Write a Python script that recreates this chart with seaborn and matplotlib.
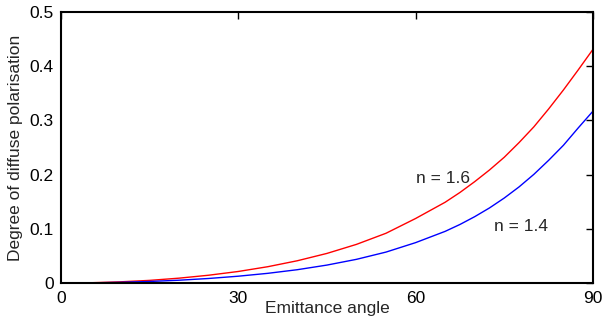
import pandas as pd
import matplotlib
matplotlib.use("Agg")
import matplotlib.pyplot as plt
import seaborn as sns

angles = [0, 5, 10, 15, 20, 25, 30, 35, 40, 45, 50, 55, 60, 65, 67.5, 70, 72.5,
          75, 77.5, 80, 82.5, 85, 87.5, 90]
rho_16 = [0.0, 0.0005, 0.0022, 0.0049, 0.0090, 0.0144, 0.0213, 0.0301, 0.0411, 0.0546,
          0.0713, 0.0918, 0.1190, 0.1490, 0.1670, 0.1870, 0.2085, 0.2320, 0.2590,
          0.2880, 0.3210, 0.3560, 0.3930, 0.4310]
rho_14 = [0.0, 0.0003, 0.0013, 0.0029, 0.0052, 0.0084, 0.0126, 0.0179, 0.0246, 0.0331,
          0.0437, 0.0571, 0.0745, 0.0953, 0.1080, 0.1224, 0.1385, 0.1568, 0.1773,
          0.2004, 0.2263, 0.2540, 0.2860, 0.3170]

df = pd.DataFrame({"angle": angles * 2,
                   "rho": rho_16 + rho_14,
                   "n": ["1.6"] * len(angles) + ["1.4"] * len(angles)})

sns.set_style("white")
plt.rcParams["font.family"] = ["Liberation Sans", "DejaVu Sans"]

fig = plt.figure(figsize=(6.02, 3.22), dpi=100)
ax = fig.add_axes([0.101, 0.121, 0.884, 0.842])

sns.lineplot(data=df, x="angle", y="rho", hue="n", palette={"1.6": "red", "1.4": "blue"},
             linewidth=1, legend=False, ax=ax)

ax.set_xlim(0, 90)
ax.set_ylim(0, 0.5)
ax.set_xticks([0, 30, 60, 90])
ax.set_yticks([0, 0.1, 0.2, 0.3, 0.4, 0.5])
ax.set_yticklabels(["0", "0.1", "0.2", "0.3", "0.4", "0.5"])
ax.tick_params(direction="in", length=5, width=1, top=True, right=True,
               labelsize=12.5, pad=5, colors="black")
ax.tick_params(axis="x", pad=6)
for s in ax.spines.values():
    s.set_linewidth(1.5)
    s.set_color("black")

ax.set_xlabel("Emittance angle", fontsize=12.5, labelpad=-4)
ax.set_ylabel("Degree of diffuse polarisation", fontsize=12.5, labelpad=5)

ax.text(60, 0.193, "n = 1.6", fontsize=12.5, va="center")
ax.text(73.3, 0.105, "n = 1.4", fontsize=12.5, va="center")

fig.savefig("out.png", dpi=100)
